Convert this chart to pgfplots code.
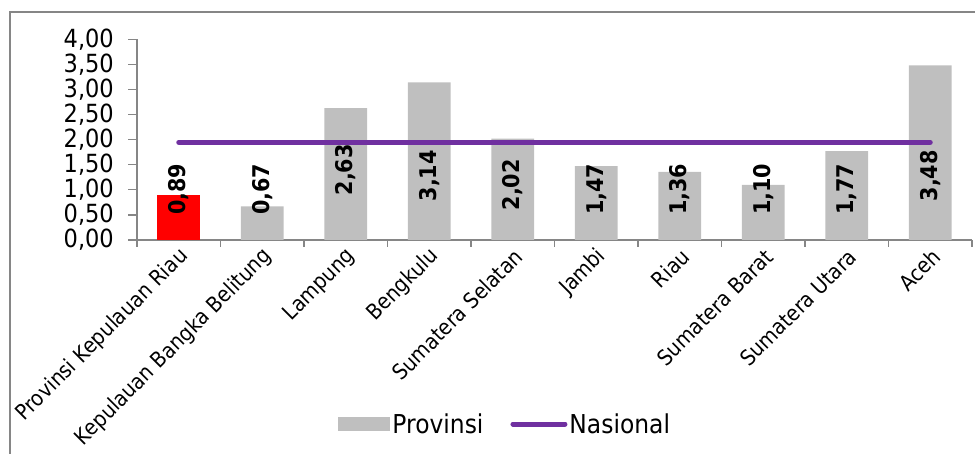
\documentclass[border=0pt]{standalone}
\usepackage{fontspec}
\setmainfont{DejaVu Sans}[FakeStretch=0.9]
\usepackage{pgfplots}
\pgfplotsset{compat=1.18}
\definecolor{bargray}{RGB}{191,191,191}
\definecolor{barred}{RGB}{255,0,0}
\definecolor{natpurple}{RGB}{112,48,160}
\definecolor{axgray}{RGB}{134,134,134}
\newcommand{\fs}[1]{\fontsize{#1}{#1}\selectfont}

\begin{document}
\begin{tikzpicture}[x=1pt,y=1pt]
% chart frame (left and top edges visible)
\draw[axgray, line width=1.5pt] (10,0) -- (10,442) -- (976,442);
\begin{axis}[at={(137pt,214pt)}, anchor=south west,
  scale only axis, width=835pt, height=200.7pt,
  xmin=-0.5, xmax=9.5, ymin=0, ymax=4,
  axis x line*=bottom, axis y line*=left,
  axis line style={axgray, line width=1.2pt},
  tick align=outside,
  tick style={axgray, line width=1.2pt},
  ytick={0,0.5,1,1.5,2,2.5,3,3.5,4},
  major tick length=9pt,
  xtick={0,...,9},
  major x tick style={draw=none},
  minor xtick={-0.5,0.5,...,9.5},
  minor tick length=7pt,
  xticklabels={Provinsi Kepulauan Riau, Kepulauan Bangka Belitung, Lampung, Bengkulu,
    Sumatera Selatan, Jambi, Riau, Sumatera Barat, Sumatera Utara, Aceh},
  xticklabel style={font=\fs{21.5}, anchor=east, inner sep=0pt, xshift=6pt, yshift=-4pt, rotate=45},
  yticklabel style={font=\fs{25}, inner sep=0pt, xshift=-14pt,
    /pgf/number format/.cd, fixed, fixed zerofill, precision=2, use comma, assume math mode=true},
  legend style={at={(0.441,-0.917)}, anchor=center, draw=none, fill=none,
    font=\fs{26}, legend columns=2,
    /tikz/every even column/.append style={column sep=25pt}},
  clip=false]
% Provinsi
\addplot[ybar, bar width=42.7pt, bar shift=0pt, fill=bargray, draw=none,
  legend image code/.code={\fill[bargray] (0pt,-7pt) rectangle (52pt,7pt);}]
  coordinates {(1,0.67) (2,2.63) (3,3.14) (4,2.02) (5,1.47) (6,1.36) (7,1.10) (8,1.77) (9,3.48)};
\addlegendentry{Provinsi}
\addplot[ybar, bar width=42.7pt, bar shift=0pt, fill=barred, draw=none, forget plot]
  coordinates {(0,0.89)};
% Nasional
\addplot[natpurple, line width=5pt, line cap=round,
  legend image code/.code={\draw[natpurple, line width=5pt, line cap=round] (2pt,0pt) -- (54pt,0pt);}]
  coordinates {(0,1.95) (9,1.95)};
\addlegendentry{Nasional}
% value labels
\foreach \xx/\yy/\lab in {0/0.5/{0,89}, 1/0.5/{0,67}, 2/0.886/{2,63}, 3/0.766/{3,14}, 4/0.586/{2,02},
    5/0.5/{1,47}, 6/0.5/{1,36}, 7/0.5/{1,10}, 8/0.5/{1,77}, 9/0.766/{3,48}}{
  \edef\tmp{\noexpand\node[rotate=90, anchor=west, inner sep=0pt, font=\noexpand\bfseries\noexpand\fs{23}]
    at (axis cs:\xx,\yy) {\lab};}\tmp
}
\end{axis}
\pgfresetboundingbox
\path[use as bounding box] (0,0) rectangle (975,454);
\end{tikzpicture}
\end{document}
